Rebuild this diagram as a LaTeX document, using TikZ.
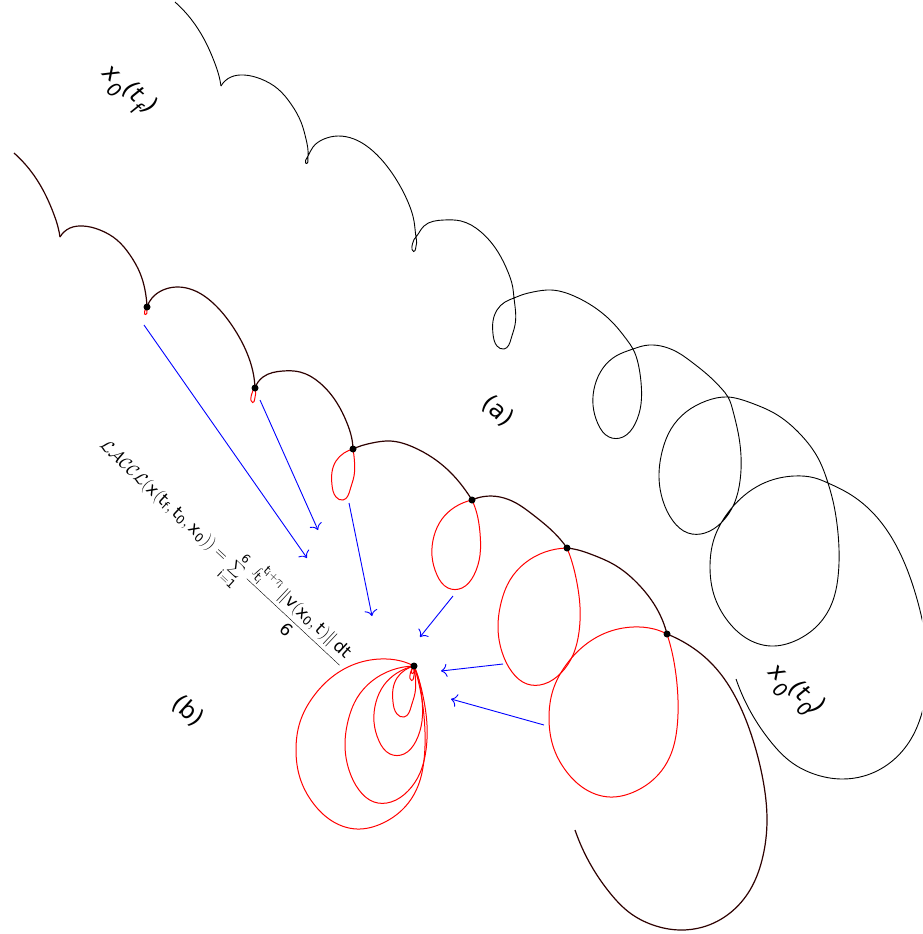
\documentclass[tikz,border=0pt]{standalone}
\usepackage{fontspec}
\setmainfont{DejaVu Sans}
\setsansfont{DejaVu Sans}
\usetikzlibrary{arrows.meta,hobby}
\definecolor{traj}{RGB}{45,0,0}
\definecolor{loopred}{RGB}{255,0,0}
\definecolor{arrblue}{RGB}{0,0,255}
% pieces of the trajectory
\newcommand\PStart{(14,153) to[curve through={(30,170) (43,190) (53,212) (58,227)}] (60,237)}
\newcommand\PArchB{(60,237) to[curve through={(70,228) (83,226) (100,230) (117,240) (130,255) (140,273) (145,290)}] (147,307)}
\newcommand\PArchC{(147,307) to[curve through={(152,298) (163,290) (177,287) (193,290) (213,303) (233,327) (247,353) (253,372)}] (255,388)}
\newcommand\PArchD{(255,388) to[curve through={(263,377) (283,371) (300,372) (320,383) (337,403) (347,423) (351.5,437)}] (353,449)}
\newcommand\PArchE{(353,449) to[curve through={(362,445.5) (372,443) (390,441) (413,447) (433,458) (453,475) (466,491)}] (472,500)}
\newcommand\PArchF{(472,500) to[curve through={(484,496.5) (500,497) (516,503) (532,514) (548,527) (560,539)}] (567,548)}
\newcommand\PArchG{(567,548) to[curve through={(580,550.5) (593,555) (613,564) (640,586) (657,609)}] (667,634)}
\newcommand\PEnd{(667,634) to[curve through={(687,644) (713,665) (738,702) (753,740) (763,780) (767,820) (762,860) (750,890) (730,913) (703,927) (680,930) (653,925) (630,913) (610,893) (592,867)}] (575,830)}
\newcommand\LoopOne{(147,307) to[curve through={(146.8,311) (145.8,314.5) (144.5,314) (144.7,311)}] (147,307)}
\newcommand\LoopTwo{(255,388) to[curve through={(255.6,394) (254.6,399.5) (252.6,402.5) (251,400.5) (251.4,395) (253,390.5)}] (255,388)}
\newcommand\LoopThree{(353,449) to[curve through={(354.5,462) (354,476) (350,490) (343,500) (336,497) (332,485) (332,472) (336,461) (344,453)}] (353,449)}
\newcommand\LoopFour{(472,500) to[curve through={(477,514) (480,533) (480,555) (474,575) (462,588) (448,588) (437,575) (432,556) (434,536) (442,519) (455,507)}] (472,500)}
\newcommand\LoopFive{(567,548) to[curve through={(572,562) (577,583) (580,607) (579,632) (573,655) (561,673) (544,684) (527,684) (512,672) (502,652) (498,628) (501,603) (510,580) (525,563) (545,552)}] (567,548)}
\newcommand\LoopSix{(667,634) to[curve through={(672,652) (676,675) (678,700) (677,728) (671,754) (657,776) (636,791) (610,797) (585,789) (566,771) (553,746) (549,718) (553,690) (566,665) (585,645) (608,632) (633,627) (654,629)}] (667,634)}
% the whole trajectory in one smooth run (used for the upper copy)
\newcommand\PFull{(60,237) to[curve through={(70,228) (83,226) (100,230) (117,240) (130,255) (140,273) (145,290)
(147,307) (146.8,311) (145.8,314.5) (144.5,314) (144.7,311) (147,307)
(152,298) (163,290) (177,287) (193,290) (213,303) (233,327) (247,353) (253,372)
(255,388) (255.6,394) (254.6,399.5) (252.6,402.5) (251,400.5) (251.4,395) (253,390.5) (255,388)
(263,377) (283,371) (300,372) (320,383) (337,403) (347,423) (351.5,437)
(353,449) (354.5,462) (354,476) (350,490) (343,500) (336,497) (332,485) (332,472) (336,461) (344,453) (353,449)
(362,445.5) (372,443) (390,441) (413,447) (433,458) (453,475) (466,491)
(472,500) (477,514) (480,533) (480,555) (474,575) (462,588) (448,588) (437,575) (432,556) (434,536) (442,519) (455,507) (472,500)
(484,496.5) (500,497) (516,503) (532,514) (548,527) (560,539)
(567,548) (572,562) (577,583) (580,607) (579,632) (573,655) (561,673) (544,684) (527,684) (512,672) (502,652) (498,628) (501,603) (510,580) (525,563) (545,552) (567,548)
(580,550.5) (593,555) (613,564) (640,586) (657,609)
(667,634) (672,652) (676,675) (678,700) (677,728) (671,754) (657,776) (636,791) (610,797) (585,789) (566,771) (553,746) (549,718) (553,690) (566,665) (585,645) (608,632) (633,627) (654,629) (667,634)
(687,644) (713,665) (738,702) (753,740) (763,780) (767,820) (762,860) (750,890) (730,913) (703,927) (680,930) (653,925) (630,913) (610,893) (592,867)}] (575,830)}
\tikzset{
  upper/.style={draw=black, line width=0.9pt},
  lower/.style={draw=traj, line width=1.2pt},
  redloop/.style={draw=loopred, line width=1pt},
  bluearrow/.style={draw=arrblue, line width=0.9pt, -{To[length=6pt,width=13pt]}},
  dotmark/.style={fill=black},
  lbl/.style={font=\fontsize{24}{28}\selectfont, inner sep=0pt}
}
\newcommand\lowsub[1]{\raisebox{-0.45em}{\fontsize{19}{20}\selectfont #1}}
\begin{document}
\begin{tikzpicture}[x=1pt,y=-1pt]
\useasboundingbox (0,0) rectangle (922,934);
\clip (0,0) rectangle (922,934);
% upper trajectory (a)
\begin{scope}[shift={(161,-151)}]
  \draw[upper] \PStart;
  \draw[upper] \PFull;
\end{scope}
% lower trajectory: black arches, red loops
\draw[lower] \PStart;
\draw[lower] \PArchB;
\draw[lower] \PArchC;
\draw[lower] \PArchD;
\draw[lower] \PArchE;
\draw[lower] \PArchF;
\draw[lower] \PArchG;
\draw[lower] \PEnd;
\draw[redloop] \LoopOne;
\draw[redloop] \LoopTwo;
\draw[redloop] \LoopThree;
\draw[redloop] \LoopFour;
\draw[redloop] \LoopFive;
\draw[redloop] \LoopSix;
% copies gathered at the common point
\begin{scope}[shift={(267,359)}]\draw[redloop] \LoopOne;\end{scope}
\begin{scope}[shift={(159,278)}]\draw[redloop] \LoopTwo;\end{scope}
\begin{scope}[shift={(61,217)}]\draw[redloop] \LoopThree;\end{scope}
\begin{scope}[shift={(-58,166)}]\draw[redloop] \LoopFour;\end{scope}
\begin{scope}[shift={(-153,118)}]\draw[redloop] \LoopFive;\end{scope}
\begin{scope}[shift={(-253,32)}]\draw[redloop] \LoopSix;\end{scope}
% dots
\coordinate (d1) at (147,307);
\coordinate (d2) at (255,388);
\coordinate (d3) at (353,449);
\coordinate (d4) at (472,500);
\coordinate (d5) at (567,548);
\coordinate (d6) at (667,634);
\coordinate (B) at (414,666);
\foreach \p in {d1,d2,d3,d4,d5,d6,B} \fill[dotmark] (\p) circle[radius=3.5pt];
% arrows
\coordinate (a1s) at (144,325); \coordinate (a1e) at (307,558);
\coordinate (a2s) at (260,400); \coordinate (a2e) at (318,530);
\coordinate (a3s) at (349,503); \coordinate (a3e) at (372,616);
\coordinate (a4s) at (453,596); \coordinate (a4e) at (420,637);
\coordinate (a5s) at (503,664); \coordinate (a5e) at (441,671);
\coordinate (a6s) at (544,725); \coordinate (a6e) at (451,699);
\draw[bluearrow] (a1s) -- (a1e);
\draw[bluearrow] (a2s) -- (a2e);
\draw[bluearrow] (a3s) -- (a3e);
\draw[bluearrow] (a4s) -- (a4e);
\draw[bluearrow] (a5s) -- (a5e);
\draw[bluearrow] (a6s) -- (a6e);
% labels
\node[lbl, rotate=-40] (tf) at (128,92) {\itshape x\lowsub{0}(t\lowsub{f}\kern2pt)};
\node[lbl, rotate=-40] (t0) at (795,692) {\itshape x\lowsub{0}(t\lowsub{0}\kern-1pt)};
\node[lbl, rotate=-42] (la) at (498,411) {(a)};
\node[lbl, rotate=-42] (lb) at (188,711) {(b)};
\node[font=\fontsize{17}{19}\selectfont, rotate=-43, inner sep=0pt] (formula) at (223,553)
  {$\displaystyle \mathcal{LACCL}(\mathsf{x}(\mathsf{t}_{\mathsf{f}},\mathsf{t}_{\mathsf{0}},\mathsf{x}_{\mathsf{0}}))=\sum_{\mathsf{i=1}}^{\mathsf{6}}\frac{\int_{\mathsf{t_i}}^{\mathsf{t_i+}\tau_{\mathsf{i}}}\|\mathsf{v}(\mathsf{x_0},\mathsf{t})\|\,\mathsf{dt}}{\mathsf{6}}$};
\end{tikzpicture}
\end{document}
